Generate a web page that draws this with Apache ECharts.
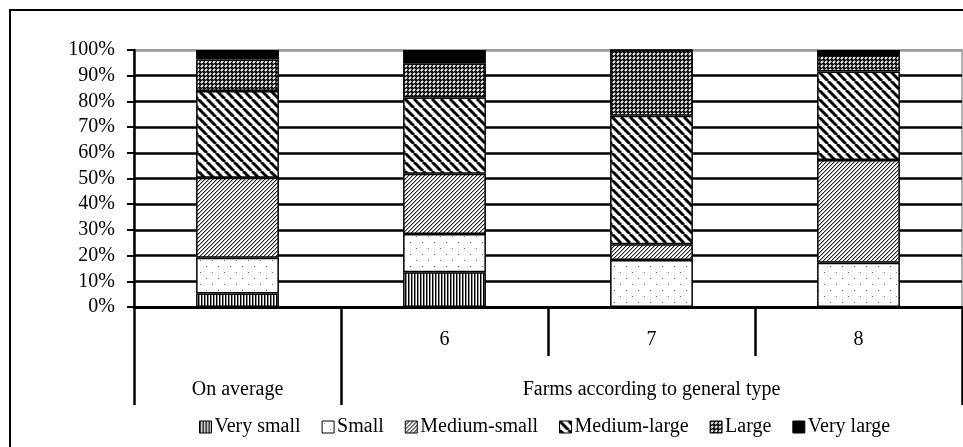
<!DOCTYPE html>
<html>
<head>
<meta charset="utf-8">
<script src="https://cdn.jsdelivr.net/npm/echarts@6/dist/echarts.min.js"></script>
<style>
  html, body { margin: 0; padding: 0; width: 963px; height: 447px; overflow: hidden; background: #fff; }
  #frame { position: absolute; left: 9px; top: 9px; width: 1000px; height: 1000px; border: 2px solid #000; }
  #chart { position: absolute; left: 0; top: 0; width: 963px; height: 447px; }
</style>
</head>
<body>
<div id="frame"></div>
<div id="chart"></div>
<script>
// ---- data ----
const categories = ['On average', '6', '7', '8'];
const categoryLabels = ['', '6', '7', '8'];
const groupLabels = ['On average', 'Farms according to general type'];
const groupSpans = [1, 3];
const seriesNames = ['Very small', 'Small', 'Medium-small', 'Medium-large', 'Large', 'Very large'];
const verySmall   = [5.3, 13.5, 0, 0];
const small       = [13.9, 14.9, 18.3, 17.2];
const mediumSmall = [31.1, 23.4, 6.1, 40.0];
const mediumLarge = [33.7, 29.7, 50.0, 34.4];
const large       = [12.3, 13.3, 25.6, 6.5];
const veryLarge   = [3.7, 5.2, 0, 1.9];
const yTicks = [0, 10, 20, 30, 40, 50, 60, 70, 80, 90, 100];

// ---- patterns ----
function tile(w, h, draw) {
  const c = document.createElement('canvas');
  c.width = w; c.height = h;
  const ctx = c.getContext('2d');
  ctx.fillStyle = '#fff'; ctx.fillRect(0, 0, w, h);
  draw(ctx, w, h);
  return { image: c, repeat: 'repeat' };
}
function px(ctx, color, pts) { ctx.fillStyle = color; pts.forEach(p => ctx.fillRect(p[0], p[1], 1, 1)); }

const patVerySmall = tile(3, 3, (ctx) => {
  ctx.fillStyle = '#000'; ctx.fillRect(0, 0, 1, 3);
  ctx.fillStyle = '#8a8a8a'; ctx.fillRect(1, 0, 1, 3);
});
const patSmall = tile(12, 12, (ctx) => { px(ctx, '#777', [[2, 2], [8, 8]]); });
const patMedSmall = tile(4, 4, (ctx) => {
  px(ctx, '#222', [[3, 0], [2, 1], [1, 2], [0, 3]]);
  px(ctx, '#aaa', [[0, 0], [3, 1], [2, 2], [1, 3]]);
});
const patMedLarge = tile(9, 9, (ctx, n) => {
  ctx.strokeStyle = '#000'; ctx.lineWidth = 3;
  for (let k = -1; k <= 1; k++) { ctx.beginPath(); ctx.moveTo(k * n, 0); ctx.lineTo(k * n + n, n); ctx.stroke(); }
});
const patLarge = tile(4, 4, (ctx) => {
  ctx.fillStyle = '#111'; ctx.fillRect(0, 0, 4, 4);
  px(ctx, '#777', [[2, 0], [0, 2], [3, 1], [1, 3]]);
  px(ctx, '#e0e0e0', [[1, 1], [2, 1], [1, 2], [2, 2]]);
});
const patterns = [patVerySmall, patSmall, patMedSmall, patMedLarge, patLarge, '#000'];
const values = [verySmall, small, mediumSmall, mediumLarge, large, veryLarge];

// group boundaries and centers
const bounds = [0];
groupSpans.forEach(s => bounds.push(bounds[bounds.length - 1] + s));
const centers = groupSpans.map((s, i) => bounds[i] + s / 2);

const font = 'Liberation Serif';
const chart = echarts.init(document.getElementById('chart'));
const splitColors = yTicks.map((t, i) => i === yTicks.length - 1 ? '#9a9a9a' : '#000');

chart.setOption({
  animation: false,
  backgroundColor: 'transparent',
  textStyle: { fontFamily: font, color: '#000' },
  grid: { left: 134, right: 1, top: 50, bottom: 140, show: true, borderColor: '#9a9a9a', borderWidth: 1.5, containLabel: false },
  legend: {
    left: 194, top: 412, itemWidth: 12, itemHeight: 12, itemGap: 21, icon: 'rect',
    textStyle: { fontFamily: font, fontSize: 20, color: '#000', padding: [0, 0, 0, -2] },
    itemStyle: { borderColor: '#000', borderWidth: 1 },
    data: seriesNames
  },
  xAxis: [
    {
      type: 'category', data: categories, position: 'bottom',
      axisLine: { show: true, lineStyle: { color: '#000', width: 3 } },
      axisTick: { show: true, interval: 0, length: 49, lineStyle: { color: '#000', width: 2.5 } },
      axisLabel: { interval: 0, margin: 23, fontSize: 20, fontFamily: font, color: '#000',
        formatter: (v, i) => categoryLabels[i] },
      splitLine: { show: false }
    },
    {
      type: 'value', min: 0, max: bounds[bounds.length - 1], position: 'bottom',
      axisLine: { show: false },
      axisTick: { show: true, length: 98, customValues: bounds, lineStyle: { color: '#000', width: 2.5 } },
      axisLabel: { show: true, margin: 73, fontSize: 20, fontFamily: font, color: '#000', customValues: centers,
        formatter: (v) => { const i = centers.indexOf(v); return i >= 0 ? groupLabels[i] : ''; } },
      splitLine: { show: false }
    }
  ],
  yAxis: {
    type: 'value', min: 0, max: 100, interval: 10,
    axisLine: { show: true, lineStyle: { color: '#000', width: 2.5 } },
    axisTick: { show: true, length: 7, lineStyle: { color: '#000', width: 2 } },
    axisLabel: { margin: 19, fontSize: 20, fontFamily: font, color: '#000', formatter: '{value}%' },
    splitLine: { show: true, lineStyle: { color: splitColors, width: 2.5 } }
  },
  series: seriesNames.map((name, i) => ({
    name, type: 'bar', stack: 'total', xAxisIndex: 0, barWidth: '40%',
    data: values[i],
    itemStyle: { color: patterns[i], borderColor: '#000', borderWidth: 1.5 }
  }))
});
</script>
</body>
</html>
